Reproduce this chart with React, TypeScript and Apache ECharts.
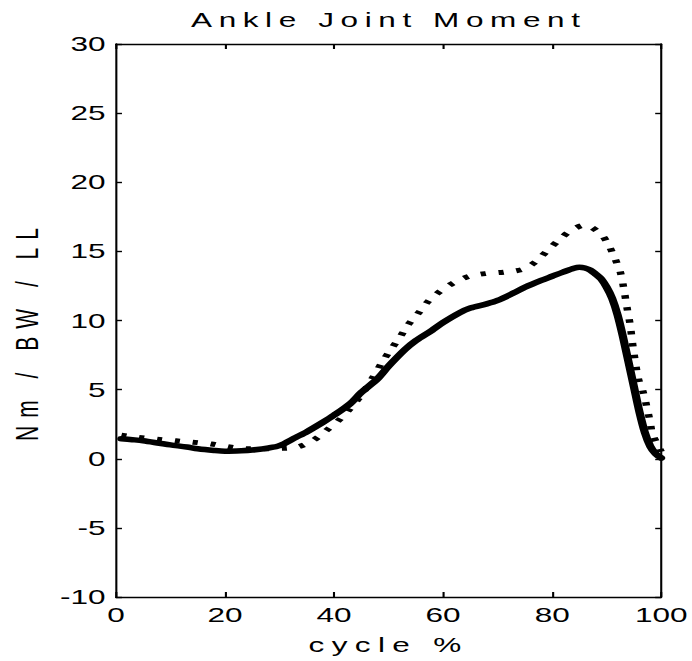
import React, { useEffect, useRef } from "react";
import * as echarts from "echarts";

// ---- data ----
const TITLE = "Ankle Joint Moment";
const X_NAME = "cycle %";
const Y_NAME = "Nm / BW / LL";

const xTicks = [0, 20, 40, 60, 80, 100];
const yTicks = [-10, -5, 0, 5, 10, 15, 20, 25, 30];

// solid line (cycle %, moment)
const solidX = [1, 3, 5, 8, 10, 13, 15, 18, 20, 23, 25, 28, 30, 33, 35, 38, 40, 43, 45, 48, 50, 53, 55, 58, 60, 63, 65, 68, 70, 73, 75, 78, 80, 82, 84, 85, 86, 87, 88, 89, 90, 91, 92, 93, 94, 95, 96, 97, 98, 99, 100];
const solidY = [1.45, 1.38, 1.3, 1.12, 1.0, 0.85, 0.72, 0.6, 0.55, 0.58, 0.63, 0.78, 0.95, 1.55, 1.95, 2.65, 3.15, 4.0, 4.8, 5.8, 6.7, 7.9, 8.55, 9.3, 9.85, 10.55, 10.9, 11.2, 11.45, 12.0, 12.4, 12.9, 13.2, 13.5, 13.78, 13.85, 13.8, 13.65, 13.35, 13.0, 12.4, 11.6, 10.4, 8.8, 7.0, 5.2, 3.4, 1.9, 0.9, 0.35, 0.05];

// dotted line (cycle %, moment)
const dottedX = [1, 4, 8, 11, 14, 17.5, 20.5, 24, 27, 30.5, 33.5, 36.3, 38.7, 41.2, 43, 45, 47, 49, 50.6, 52.1, 53.6, 55.4, 57.3, 59.4, 61.8, 64.8, 67.9, 71.2, 74.6, 77, 79.1, 81.2, 83.4, 86, 88.8, 90.3, 91.5, 92.5, 93.1, 93.7, 94.3, 94.9, 95.8, 96.7, 97.9, 98.4, 99.5, 100];
const dottedY = [1.7, 1.55, 1.4, 1.3, 1.2, 1.07, 0.87, 0.72, 0.72, 0.75, 0.87, 1.36, 2.08, 2.9, 3.65, 4.6, 5.8, 7.1, 8.0, 8.8, 9.7, 10.5, 11.4, 12.1, 12.7, 13.2, 13.4, 13.5, 13.7, 14.25, 15.05, 15.8, 16.5, 16.9, 16.3, 15.5, 14.5, 13.5, 12.4, 11.0, 9.7, 7.9, 5.8, 4.8, 2.8, 1.8, 0.9, 0.5];

// ---- layout ----
const W = 461;
const H = 661;
const SX = 692 / W;
const FONT = "'Liberation Sans', Arial, Helvetica, sans-serif";

export default function App() {
  const ref = useRef<HTMLDivElement>(null);

  useEffect(() => {
    document.body.style.margin = "0";
    document.body.style.overflow = "hidden";
    const el = ref.current!;
    const chart = echarts.init(el, null, { renderer: "svg", width: W, height: H });

    const axisLineStyle = { color: "#000", width: 1.4 };
    const labelStyle = { color: "#000", fontSize: 21, fontFamily: FONT };
    const xMin = xTicks[0];
    const xMax = xTicks[xTicks.length - 1];
    const xInt = xTicks[1] - xTicks[0];
    const yMin = yTicks[0];
    const yMax = yTicks[yTicks.length - 1];
    const yInt = yTicks[1] - yTicks[0];

    chart.setOption({
      animation: false,
      backgroundColor: "#fff",
      title: {
        text: TITLE,
        left: 259,
        top: 9,
        padding: 0,
        textAlign: "center",
        textStyle: { color: "#000", fontSize: 21, fontWeight: "normal", fontFamily: FONT },
      },
      grid: { left: 76, top: 44, width: 366, height: 553, containLabel: false },
      xAxis: [
        {
          type: "value",
          position: "bottom",
          min: xMin,
          max: xMax,
          interval: xInt,
          axisLine: { onZero: false, lineStyle: axisLineStyle },
          axisTick: { inside: true, length: 5, lineStyle: axisLineStyle },
          axisLabel: { ...labelStyle, margin: 7, showMinLabel: true, showMaxLabel: true },
          splitLine: { show: false },
          name: X_NAME,
          nameLocation: "middle",
          nameGap: 37,
          nameTextStyle: { ...labelStyle },
        },
        {
          type: "value",
          position: "top",
          min: xMin,
          max: xMax,
          interval: xInt,
          axisLine: { onZero: false, lineStyle: axisLineStyle },
          axisTick: { inside: true, length: 5, lineStyle: axisLineStyle },
          axisLabel: { show: false },
          splitLine: { show: false },
        },
      ],
      yAxis: [
        {
          type: "value",
          position: "left",
          min: yMin,
          max: yMax,
          interval: yInt,
          axisLine: { onZero: false, lineStyle: axisLineStyle },
          axisTick: { inside: true, length: 4, lineStyle: axisLineStyle },
          axisLabel: { ...labelStyle, margin: 7, showMinLabel: true, showMaxLabel: true },
          splitLine: { show: false },
          name: Y_NAME,
          nameLocation: "middle",
          nameRotate: 90,
          nameGap: 44,
          nameTextStyle: { ...labelStyle, padding: [0, 20, 0, 0] },
        },
        {
          type: "value",
          position: "right",
          min: yMin,
          max: yMax,
          interval: yInt,
          axisLine: { onZero: false, lineStyle: axisLineStyle },
          axisTick: { inside: true, length: 4, lineStyle: axisLineStyle },
          axisLabel: { show: false },
          splitLine: { show: false },
        },
      ],
      series: [
        {
          type: "line",
          name: "dotted",
          xAxisIndex: 0,
          yAxisIndex: 0,
          data: dottedX.map((x, i) => [x, dottedY[i]]),
          showSymbol: false,
          smooth: 0.3,
          lineStyle: { color: "#000", width: 5, type: [3.5, 8.5], cap: "butt", join: "round" },
          z: 2,
        },
        {
          type: "line",
          name: "solid",
          xAxisIndex: 0,
          yAxisIndex: 0,
          data: solidX.map((x, i) => [x, solidY[i]]),
          showSymbol: false,
          smooth: 0.3,
          lineStyle: { color: "#000", width: 5.5, type: "solid", cap: "round", join: "round" },
          z: 3,
        },
      ],
    });

    const applySpacing = () => {
      el.querySelectorAll("text").forEach((t) => {
        const s = (t.textContent || "").trim();
        if (s === TITLE) t.setAttribute("letter-spacing", "4.4");
        else if (s === X_NAME) t.setAttribute("letter-spacing", "4.9");
        else if (s === Y_NAME) t.setAttribute("letter-spacing", "8");
      });
    };
    applySpacing();
    chart.on("finished", applySpacing);
    const timer = setTimeout(applySpacing, 50);

    return () => {
      clearTimeout(timer);
      chart.dispose();
    };
  }, []);

  return (
    <div
      ref={ref}
      style={{
        position: "absolute",
        left: 0,
        top: 0,
        width: W,
        height: H,
        transform: `scaleX(${SX})`,
        transformOrigin: "0 0",
        background: "#fff",
      }}
    />
  );
}
